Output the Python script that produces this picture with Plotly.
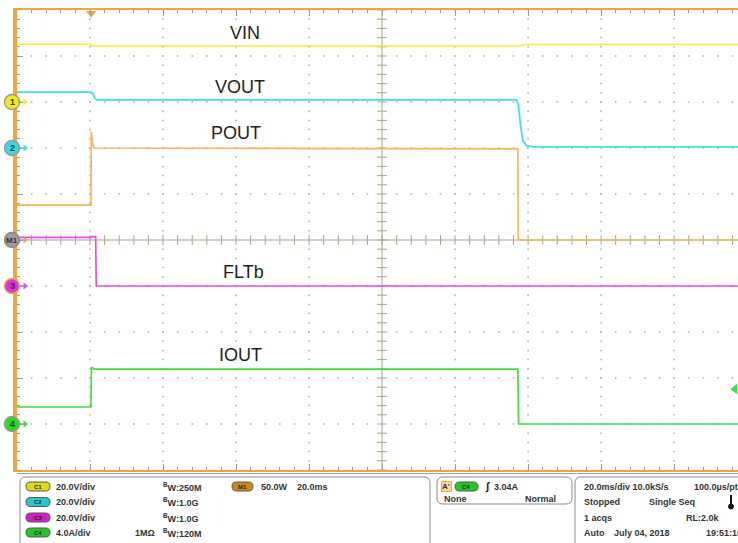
import plotly.graph_objects as go

# ---------------- data ----------------
# time in ms relative to trigger, 20 ms/div
T_LEFT, T_RIGHT, MS_PER_DIV = -20.0, 177.5, 20.0

# channel scale (units/div) and position (div)
VIN_SCALE, VIN_POS = 20.0, 3.0      # C1, V
VOUT_SCALE, VOUT_POS = 20.0, 2.0    # C2, V
POUT_SCALE, POUT_POS = 50.0, 0.0    # M1, W
FLT_SCALE, FLT_POS = 20.0, -1.0     # C3, V
IOUT_SCALE, IOUT_POS = 4.0, -4.0    # C4, A
TRIG_LEVEL = 3.04                   # A on C4

vin_t = [-20, 0.0, 0.4, 118.0, 119.0, 177.5]
vin_v = [25.1, 25.1, 24.35, 24.35, 25.0, 25.0]

vout_t = [-20, 0.3, 0.8, 1.3, 1.9, 116.9, 117.4, 117.9, 118.6, 119.6, 121.6, 177.5]
vout_v = [24.3, 24.3, 23.5, 21.6, 20.9, 20.9, 18.0, 10.0, 3.0, 1.0, 0.5, 0.5]

pout_t = [-20, 0.25, 0.35, 0.7, 1.1, 117.2, 117.3, 177.5]
pout_v = [38.0, 38.0, 118.0, 104.0, 100.0, 99.0, 0.0, 0.0]

flt_t = [-20, 0.3, 0.5, 1.55, 1.7, 177.5]
flt_v = [21.1, 21.1, 21.5, 21.5, 0.0, 0.0]

iout_t = [-20, 0.25, 0.4, 1.1, 117.2, 117.4, 177.5]
iout_v = [1.48, 1.48, 4.95, 4.78, 4.78, 0.0, 0.0]

labels = ["VIN", "VOUT", "POUT", "FLTb", "IOUT"]

ch_rows = [("C1", "20.0V/div", "", "250M"),
           ("C2", "20.0V/div", "", "1.0G"),
           ("C3", "20.0V/div", "", "1.0G"),
           ("C4", "4.0A/div", "1MΩ", "120M")]
math_text = ["M1", "50.0W", "20.0ms"]
trig_text = ["A'", "C4", "3.04A", "None", "Normal"]
acq_text = ["20.0ms/div 10.0kS/s", "100.0µs/pt", "Stopped", "Single Seq",
            "1 acqs", "RL:2.0k", "Auto", "July 04, 2018", "19:51:10"]

# ---------------- styling ----------------
ORANGE = "#F2A541"
C_VIN, C_VOUT, C_POUT, C_FLT, C_IOUT = "#F2EC3A", "#38E2EE", "#F6B65A", "#E94BE9", "#40DF40"
GRID = "#BDBDBD"
CROSS = "#ADA38C"
FONT = "Liberation Sans, Arial, sans-serif"

W, H = 738, 543
ML, MT, MB = 17, 10, 73
PW, PH = W - ML, H - MT - MB   # 721 x 460


def px(x):
    return (x - ML) / PW


def py(y):
    return (MT + PH - y) / PH


def tx(xpix):
    return T_LEFT + (xpix - ML) / PW * (T_RIGHT - T_LEFT)


fig = go.Figure()

# grid dots
gx, gy = [], []
for t in range(0, 180, 20):
    if t == 80:
        continue
    for k in range(51):
        gx.append(t)
        gy.append(-5 + 0.2 * k)
for d in range(-4, 5):
    if d == 0:
        continue
    for k in range(50):
        gx.append(-20 + 4 * k)
        gy.append(d)
fig.add_trace(go.Scatter(x=gx, y=gy, mode="markers",
                         marker=dict(size=2, color=GRID), hoverinfo="skip"))

# crosshair ticks
cx = [80] * 51
cy = [-5 + 0.2 * k for k in range(51)]
fig.add_trace(go.Scatter(x=cx, y=cy, mode="markers",
                         marker=dict(symbol="line-ew", size=7, line=dict(color=CROSS, width=1)),
                         hoverinfo="skip"))
hx = [-20 + 4 * k for k in range(50)]
fig.add_trace(go.Scatter(x=hx, y=[0] * len(hx), mode="markers",
                         marker=dict(symbol="line-ns", size=7, line=dict(color=CROSS, width=1)),
                         hoverinfo="skip"))
fig.add_shape(type="line", x0=80, x1=80, y0=-5, y1=5, line=dict(color=CROSS, width=1), layer="below")
fig.add_shape(type="line", x0=T_LEFT, x1=T_RIGHT, y0=0, y1=0, line=dict(color=CROSS, width=1), layer="below")


# waveforms
def add_wave(t, v, scale, pos, color):
    fig.add_trace(go.Scatter(x=t, y=[pos + val / scale for val in v], mode="lines",
                             line=dict(color=color, width=1.7), hoverinfo="skip"))


add_wave(vin_t, vin_v, VIN_SCALE, VIN_POS, C_VIN)
add_wave(vout_t, vout_v, VOUT_SCALE, VOUT_POS, C_VOUT)
add_wave(flt_t, flt_v, FLT_SCALE, FLT_POS, C_FLT)
add_wave(iout_t, iout_v, IOUT_SCALE, IOUT_POS, C_IOUT)
add_wave(pout_t, pout_v, POUT_SCALE, POUT_POS, C_POUT)

# channel position markers on the left edge
markers = [("1", VIN_POS, "#EFEF10", "#9A9A9A", C_VIN),
           ("2", VOUT_POS, "#30DCE6", "#9A9A9A", C_VOUT),
           ("M1", POUT_POS, "#9C9C9C", "#8A8A8A", ORANGE),
           ("3", FLT_POS, "#E030E0", ORANGE, C_FLT),
           ("4", IOUT_POS, "#22DD22", "#9A9A9A", C_IOUT)]
for name, pos, fill, ring, acol in markers:
    fig.add_trace(go.Scatter(x=[tx(19), tx(24)], y=[pos, pos], mode="lines",
                             line=dict(color=acol, width=1.5), cliponaxis=False, hoverinfo="skip"))
    fig.add_trace(go.Scatter(x=[tx(25)], y=[pos], mode="markers",
                             marker=dict(symbol="triangle-right", size=6, color=acol),
                             cliponaxis=False, hoverinfo="skip"))
    yc = MT + PH / 2 - pos * PH / 10
    fig.add_shape(type="circle", xref="paper", yref="paper",
                  x0=px(12 - 7.5), x1=px(12 + 7.5), y0=py(yc + 7.5), y1=py(yc - 7.5),
                  fillcolor=fill, line=dict(color=ring, width=1.5), layer="above")
    fig.add_annotation(x=px(12), y=py(yc), xref="paper", yref="paper", text=f"<b>{name}</b>",
                       showarrow=False, xanchor="center", yanchor="middle",
                       font=dict(size=8 if name == "M1" else 9, color="#333", family=FONT))

# trigger time marker (top) and trigger level marker (right)
fig.add_trace(go.Scatter(x=[0.3], y=[4.93], mode="markers",
                         marker=dict(symbol="triangle-down", size=9, color=ORANGE),
                         cliponaxis=False, hoverinfo="skip"))
fig.add_trace(go.Scatter(x=[tx(735)], y=[IOUT_POS + TRIG_LEVEL / IOUT_SCALE], mode="markers",
                         marker=dict(symbol="triangle-left", size=9, color=C_IOUT),
                         cliponaxis=False, hoverinfo="skip"))

# waveform labels
label_pos = [(245, 33), (240, 87.5), (236, 133), (243, 272), (241, 355)]
for lab, (lx, ly) in zip(labels, label_pos):
    fig.add_annotation(x=px(lx), y=py(ly), xref="paper", yref="paper", text=lab,
                       showarrow=False, xanchor="center", yanchor="middle",
                       font=dict(size=18, color="#1E1E1E", family=FONT))


# ---------------- bottom info panel ----------------
def rrect_path(x0, y0, x1, y1, r):
    def P(x, y):
        return f"{px(x):.5f},{py(y):.5f}"
    return (f"M{P(x0 + r, y0)} L{P(x1 - r, y0)} Q{P(x1, y0)} {P(x1, y0 + r)} "
            f"L{P(x1, y1 - r)} Q{P(x1, y1)} {P(x1 - r, y1)} L{P(x0 + r, y1)} "
            f"Q{P(x0, y1)} {P(x0, y1 - r)} L{P(x0, y0 + r)} Q{P(x0, y0)} {P(x0 + r, y0)} Z")


def box(x0, y0, x1, y1, r, fill="rgba(0,0,0,0)", line="#8C8C8C", lw=1):
    fig.add_shape(type="path", path=rrect_path(x0, y0, x1, y1, r), xref="paper", yref="paper",
                  fillcolor=fill, line=dict(color=line, width=lw), layer="above")


def txt(x, y, s, size=9, color="#333333", anchor="left", bold=True):
    fig.add_annotation(x=px(x), y=py(y), xref="paper", yref="paper",
                       text=f"<b>{s}</b>" if bold else s, showarrow=False,
                       xanchor=anchor, yanchor="middle",
                       font=dict(size=size, color=color, family=FONT))


def pill(x0, x1, yc, fill, label, tcol="#222"):
    box(x0, yc - 4.5, x1, yc + 4.5, 4.5, fill=fill, line="#555555", lw=1)
    txt((x0 + x1) / 2, yc, label, size=6, color=tcol, anchor="center")


fig.add_shape(type="line", x0=px(17), x1=px(738), y0=py(473.5), y1=py(473.5),
              xref="paper", yref="paper", line=dict(color="#A0A0A0", width=1))
box(20, 477, 430, 560, 6)
box(437, 477, 572, 504, 6)
box(575, 477, 760, 560, 6)

rows = [486.5, 502.0, 517.5, 532.5]
pill_cols = ["#DCDC10", "#22C8D0", "#CC22CC", "#22C822"]
for (cname, scale, imp, bw), yc, pc in zip(ch_rows, rows, pill_cols):
    pill(26, 50, yc, pc, cname)
    txt(54, yc, scale)
    if imp:
        txt(157, yc, imp, anchor="right")
    txt(161, yc, "<sup>B</sup>W:" + bw)

pill(232, 253, rows[0], "#C88A10", math_text[0])
txt(259, rows[0], math_text[1])
txt(295, rows[0], math_text[2])

box(441.5, 481.5, 451.5, 491.5, 1, fill="#F8D8A8", line=ORANGE, lw=1.2)
txt(446.5, 486.5, trig_text[0], size=8, anchor="center")
pill(455, 478, 486.5, "#22C822", trig_text[1])
txt(483, 486.5, "∫", size=11, color="#222")
txt(491.5, 486.5, trig_text[2])
txt(442.5, 499.3, trig_text[3])
txt(557.5, 499.3, trig_text[4], anchor="right")

txt(581.5, rows[0], acq_text[0])
txt(691.5, rows[0], acq_text[1])
txt(581.5, rows[1], acq_text[2])
txt(646.5, rows[1], acq_text[3])
txt(581.5, rows[2], acq_text[4])
txt(683.5, rows[2], acq_text[5])
txt(581.5, rows[3], acq_text[6])
txt(611.5, rows[3], acq_text[7])
txt(703.5, rows[3], acq_text[8])

# thermometer-like icon
fig.add_shape(type="line", x0=px(731), x1=px(731), y0=py(495), y1=py(505),
              xref="paper", yref="paper", line=dict(color="#111", width=2))
fig.add_shape(type="circle", x0=px(728.5), x1=px(733.5), y0=py(509), y1=py(504),
              xref="paper", yref="paper", fillcolor="#111", line=dict(color="#111", width=1))

# ---------------- axes / layout ----------------
fig.update_layout(
    width=W, height=H,
    margin=dict(l=ML, r=0, t=MT, b=MB, pad=0),
    paper_bgcolor="white", plot_bgcolor="white",
    showlegend=False,
    xaxis=dict(range=[T_LEFT, T_RIGHT], showgrid=False, zeroline=False,
               showline=True, linecolor=ORANGE, linewidth=2, mirror="ticks",
               ticks="inside", tick0=0, dtick=MS_PER_DIV, ticklen=6, tickcolor="#9A9A9A",
               tickwidth=1, showticklabels=False,
               minor=dict(ticks="inside", tick0=0, dtick=4, ticklen=3,
                          tickcolor="#9A9A9A", showgrid=False),
               fixedrange=True),
    yaxis=dict(range=[-5, 5], showgrid=False, zeroline=False,
               showline=True, linecolor=ORANGE, linewidth=4, mirror=False,
               ticks="inside", tick0=0, dtick=1, ticklen=6, tickcolor="#9A9A9A",
               tickwidth=1, showticklabels=False,
               minor=dict(ticks="inside", tick0=0, dtick=0.2, ticklen=3,
                          tickcolor="#9A9A9A", showgrid=False),
               fixedrange=True),
)

fig.write_html("out.html", config={"displayModeBar": False},
               post_script="document.body.style.margin='0';document.body.style.overflow='hidden';")
